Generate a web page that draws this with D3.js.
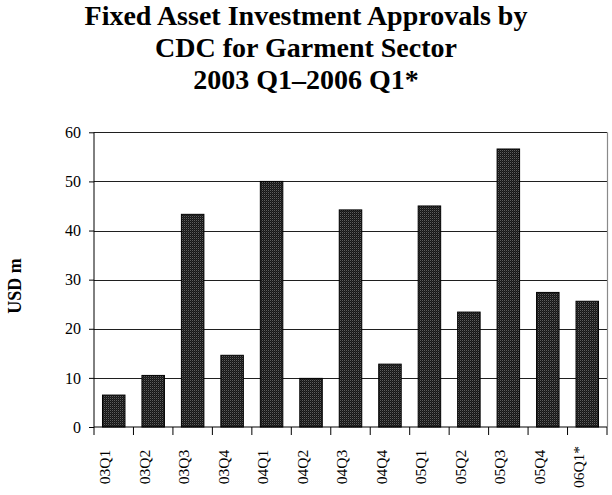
<!DOCTYPE html>
<html>
<head>
<meta charset="utf-8">
<script src="https://cdn.jsdelivr.net/npm/d3@7"></script>
<style>
  html, body { margin: 0; padding: 0; background: #fff; }
  svg { display: block; font-family: "Liberation Serif", "Times New Roman", serif; }
</style>
</head>
<body>
<svg id="chart" width="612" height="495"></svg>
<script>
const titleLines = ["Fixed Asset Investment Approvals by", "CDC for Garment Sector", "2003 Q1\u20132006 Q1*"];
const categories = ["03Q1","03Q2","03Q3","03Q4","04Q1","04Q2","04Q3","04Q4","05Q1","05Q2","05Q3","05Q4","06Q1*"];
const values = [6.5, 10.5, 43.3, 14.6, 50.0, 9.9, 44.2, 12.8, 45.0, 23.4, 56.6, 27.4, 25.6];
const yTicks = [0, 10, 20, 30, 40, 50, 60];
const yLabel = "USD m";

const svg = d3.select("#chart");
const W = 612;
const plot = { left: 94, right: 607, top: 132.3, bottom: 427 };

// pattern fill for bars
const defs = svg.append("defs");
const pat = defs.append("pattern").attr("id", "dots").attr("patternUnits", "userSpaceOnUse")
  .attr("width", 2).attr("height", 2);
pat.append("rect").attr("width", 2).attr("height", 2).attr("fill", "#151515");
pat.append("rect").attr("width", 1).attr("height", 1).attr("fill", "#5e5e5e");
pat.append("rect").attr("x", 1).attr("y", 1).attr("width", 1).attr("height", 1).attr("fill", "#2a2a2a");

const xCat = d3.scaleBand().domain(categories).range([plot.left, plot.right]).padding(0);
const xBar = d3.scaleBand().domain(categories).range([plot.left, plot.right]).paddingInner(0.43).paddingOuter(0.215);
const y = d3.scaleLinear().domain([0, 60]).range([plot.bottom, plot.top]);

// title
const title = svg.append("text").attr("text-anchor", "middle")
  .attr("font-weight", "bold").attr("font-size", 28).attr("fill", "#000");
titleLines.forEach((t, i) => {
  title.append("tspan").attr("x", W / 2).attr("y", 25 + i * 32).text(t);
});

// gridlines
svg.append("g").selectAll("line").data(yTicks.filter(d => d > 0)).join("line")
  .attr("x1", plot.left).attr("x2", plot.right)
  .attr("y1", d => Math.round(y(d)) + 0.5).attr("y2", d => Math.round(y(d)) + 0.5)
  .attr("stroke", "#1f1f1f").attr("stroke-width", 1.1);

// right border
svg.append("line").attr("x1", plot.right + 0.5).attr("x2", plot.right + 0.5)
  .attr("y1", y(60)).attr("y2", y(0)).attr("stroke", "#8a8a8a").attr("stroke-width", 1.2);

// bars
svg.append("g").selectAll("rect").data(categories).join("rect")
  .attr("x", (d) => xBar(d))
  .attr("width", xBar.bandwidth())
  .attr("y", (d, i) => y(values[i]))
  .attr("height", (d, i) => y(0) - y(values[i]))
  .attr("fill", "url(#dots)")
  .attr("stroke", "#000").attr("stroke-width", 1);

// y axis
const yAxis = d3.axisLeft(y).tickValues(yTicks).tickSize(5).tickPadding(8).tickFormat(d3.format("d"));
const gy = svg.append("g").attr("transform", `translate(${plot.left},0)`).call(yAxis);
gy.select(".domain").attr("stroke", "#000").attr("d", `M0,${y(60)}V${y(0)}`);
gy.selectAll(".tick line").attr("stroke", "#000");
gy.selectAll(".tick text").attr("font-size", 16).attr("fill", "#000")
  .attr("font-family", "Liberation Serif, Times New Roman, serif");

// x axis baseline
svg.append("line").attr("x1", plot.left).attr("x2", plot.right)
  .attr("y1", y(0)).attr("y2", y(0)).attr("stroke", "#000").attr("stroke-width", 1.2);

// x ticks at category boundaries
const bounds = categories.map(c => xCat(c)).concat([plot.right]);
svg.append("g").selectAll("line").data(bounds).join("line")
  .attr("x1", d => d).attr("x2", d => d)
  .attr("y1", y(0)).attr("y2", y(0) + 8)
  .attr("stroke", "#000").attr("stroke-width", 1);

// x labels (rotated)
svg.append("g").selectAll("text").data(categories).join("text")
  .attr("transform", d => `translate(${xCat(d) + xCat.step() * 0.28},467) rotate(-90)`)
  .attr("text-anchor", "middle").attr("dy", "0.35em")
  .attr("font-size", 15.5).attr("fill", "#000")
  .text(d => d);

// y label
svg.append("text").attr("transform", `translate(15,286) rotate(-90)`)
  .attr("text-anchor", "middle").attr("dy", "0.35em")
  .attr("font-weight", "bold").attr("font-size", 18).attr("fill", "#000")
  .text(yLabel);
</script>
</body>
</html>
